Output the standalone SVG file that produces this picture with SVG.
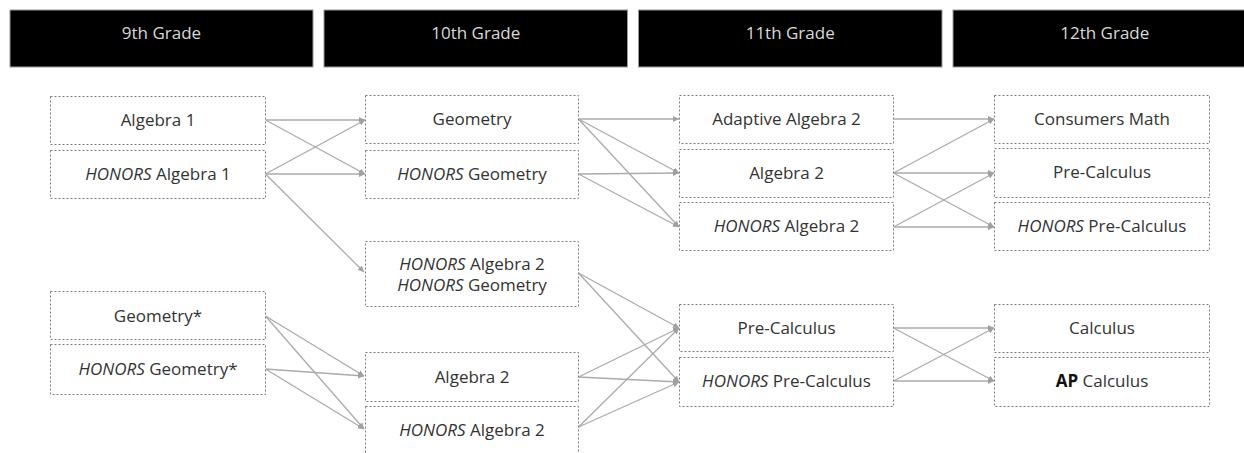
<svg xmlns="http://www.w3.org/2000/svg" width="1244" height="453" viewBox="0 0 1244 453">
<style>
.hdr{fill:#000;stroke:#999;stroke-width:1}
.ht{font-family:"Open Sans","Liberation Sans",sans-serif;font-size:17px;fill:#d9d9d9;text-anchor:middle}
.box{fill:#fff;stroke:#7a7a7a;stroke-width:1;stroke-dasharray:2,2}
.t{font-family:"Open Sans","Liberation Sans",sans-serif;font-size:17px;fill:#333;text-anchor:middle}
.i{font-style:italic}
.b{font-weight:bold;fill:#111}
.c{fill:none;stroke:#ababab;stroke-width:1.3;marker-end:url(#ah)}
</style>
<defs>
<marker id="ah" viewBox="0 0 10 10" refX="10" refY="5" markerWidth="6" markerHeight="6" markerUnits="userSpaceOnUse" orient="auto">
<path d="M0,0 L10,5 L0,10 z" fill="#a0a0a0"/>
</marker>
</defs>
<rect width="1244" height="453" fill="#fff"/>
<g id="headers">
<g id="h9"><rect class="hdr" x="10" y="10" width="303" height="57"/><text class="ht" x="161.5" y="39">9th Grade</text></g>
<g id="h10"><rect class="hdr" x="324" y="10" width="303.5" height="57"/><text class="ht" x="475.8" y="39">10th Grade</text></g>
<g id="h11"><rect class="hdr" x="638.5" y="10" width="303.5" height="57"/><text class="ht" x="790.2" y="39">11th Grade</text></g>
<g id="h12"><rect class="hdr" x="953" y="10" width="303.5" height="57"/><text class="ht" x="1104.8" y="39">12th Grade</text></g>
</g>
<g id="connectors">
<line class="c" x1="265.5" y1="120" x2="365" y2="120"/>
<line class="c" x1="265.5" y1="120" x2="365" y2="174"/>
<line class="c" x1="265.5" y1="174" x2="365" y2="120"/>
<line class="c" x1="265.5" y1="174" x2="365" y2="174"/>
<line class="c" x1="265.5" y1="174" x2="364" y2="272"/>
<line class="c" x1="578.5" y1="119" x2="679" y2="119"/>
<line class="c" x1="578.5" y1="119" x2="679" y2="173"/>
<line class="c" x1="578.5" y1="119" x2="679" y2="227"/>
<line class="c" x1="578.5" y1="174" x2="679" y2="173"/>
<line class="c" x1="578.5" y1="174" x2="679" y2="227"/>
<line class="c" x1="893.5" y1="119" x2="994" y2="119"/>
<line class="c" x1="893.5" y1="173" x2="994" y2="119"/>
<line class="c" x1="893.5" y1="173" x2="994" y2="173"/>
<line class="c" x1="893.5" y1="173" x2="994" y2="227"/>
<line class="c" x1="893.5" y1="227" x2="994" y2="173"/>
<line class="c" x1="893.5" y1="227" x2="994" y2="227"/>
<line class="c" x1="265.5" y1="316" x2="364" y2="376"/>
<line class="c" x1="265.5" y1="316" x2="364" y2="429"/>
<line class="c" x1="265.5" y1="369" x2="364" y2="376"/>
<line class="c" x1="265.5" y1="369" x2="364" y2="429"/>
<line class="c" x1="578.5" y1="273" x2="679" y2="328"/>
<line class="c" x1="578.5" y1="273" x2="679" y2="382"/>
<line class="c" x1="578.5" y1="377" x2="679" y2="328"/>
<line class="c" x1="578.5" y1="377" x2="679" y2="382"/>
<line class="c" x1="578.5" y1="427" x2="679" y2="328"/>
<line class="c" x1="578.5" y1="427" x2="679" y2="382"/>
<line class="c" x1="893.5" y1="328" x2="994" y2="328"/>
<line class="c" x1="893.5" y1="328" x2="994" y2="381"/>
<line class="c" x1="893.5" y1="381" x2="994" y2="328"/>
<line class="c" x1="893.5" y1="381" x2="994" y2="381"/>
</g>
<g id="n-alg1"><rect class="box" x="50.5" y="96.5" width="215" height="48"/><text class="t" x="158" y="126">Algebra 1</text></g>
<g id="n-halg1"><rect class="box" x="50.5" y="150.5" width="215" height="48"/><text class="t" x="158" y="180"><tspan class="i">HONORS</tspan> Algebra 1</text></g>
<g id="n-geostar"><rect class="box" x="50.5" y="291.5" width="215" height="48"/><text class="t" x="158" y="322">Geometry*</text></g>
<g id="n-hgeostar"><rect class="box" x="50.5" y="344.5" width="215" height="50"/><text class="t" x="158" y="375"><tspan class="i">HONORS</tspan> Geometry*</text></g>
<g id="n-geo"><rect class="box" x="365.5" y="95.5" width="213" height="48"/><text class="t" x="472" y="125">Geometry</text></g>
<g id="n-hgeo"><rect class="box" x="365.5" y="150.5" width="213" height="48"/><text class="t" x="472" y="180"><tspan class="i">HONORS</tspan> Geometry</text></g>
<g id="n-halg2geo"><rect class="box" x="365.5" y="241.5" width="213" height="65"/><text class="t" x="472" y="270"><tspan class="i">HONORS</tspan> Algebra 2</text><text class="t" x="472" y="291"><tspan class="i">HONORS</tspan> Geometry</text></g>
<g id="n-alg2b"><rect class="box" x="365.5" y="352.5" width="213" height="49"/><text class="t" x="472" y="383">Algebra 2</text></g>
<g id="n-halg2b"><rect class="box" x="365.5" y="406.5" width="213" height="50"/><text class="t" x="472" y="436"><tspan class="i">HONORS</tspan> Algebra 2</text></g>
<g id="n-adalg2"><rect class="box" x="679.5" y="95.5" width="214" height="48"/><text class="t" x="786.5" y="125">Adaptive Algebra 2</text></g>
<g id="n-alg2"><rect class="box" x="679.5" y="149.5" width="214" height="48"/><text class="t" x="786.5" y="179">Algebra 2</text></g>
<g id="n-halg2"><rect class="box" x="679.5" y="202.5" width="214" height="48"/><text class="t" x="786.5" y="232"><tspan class="i">HONORS</tspan> Algebra 2</text></g>
<g id="n-precalc"><rect class="box" x="679.5" y="304.5" width="214" height="47"/><text class="t" x="786.5" y="334">Pre-Calculus</text></g>
<g id="n-hprecalc"><rect class="box" x="679.5" y="357.5" width="214" height="49"/><text class="t" x="786.5" y="387"><tspan class="i">HONORS</tspan> Pre-Calculus</text></g>
<g id="n-consumers"><rect class="box" x="994.5" y="95.5" width="215" height="48"/><text class="t" x="1102" y="125">Consumers Math</text></g>
<g id="n-precalc12"><rect class="box" x="994.5" y="148.5" width="215" height="49"/><text class="t" x="1102" y="178">Pre-Calculus</text></g>
<g id="n-hprecalc12"><rect class="box" x="994.5" y="202.5" width="215" height="48"/><text class="t" x="1102" y="232"><tspan class="i">HONORS</tspan> Pre-Calculus</text></g>
<g id="n-calc"><rect class="box" x="994.5" y="304.5" width="215" height="48"/><text class="t" x="1102" y="334">Calculus</text></g>
<g id="n-apcalc"><rect class="box" x="994.5" y="357.5" width="215" height="49"/><text class="t" x="1102" y="387"><tspan class="b">AP</tspan> Calculus</text></g>
</svg>
